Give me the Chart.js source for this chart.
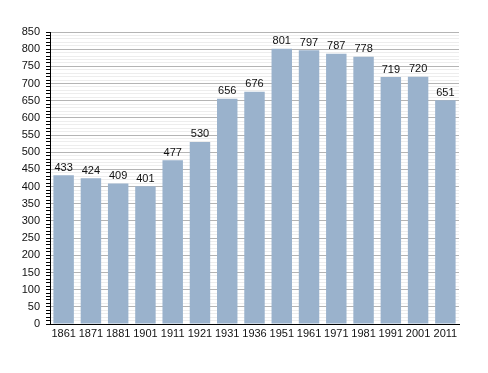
<!DOCTYPE html>
<html>
<head>
<meta charset="utf-8">
<script src="https://cdn.jsdelivr.net/npm/chart.js@4/dist/chart.umd.min.js"></script>
<style>
  html, body { margin: 0; padding: 0; background: #fff; }
  #wrap { width: 488px; height: 373px; }
</style>
</head>
<body>
<div id="wrap"><canvas id="barChart" width="488" height="373"></canvas></div>
<script>
const anni = ['1861', '1871', '1881', '1901', '1911', '1921', '1931', '1936', '1951', '1961', '1971', '1981', '1991', '2001', '2011'];
const abitanti = [433, 424, 409, 401, 477, 530, 656, 676, 801, 797, 787, 778, 719, 720, 651];
const yMax = 850;

// scrive il valore sopra ogni barra
const etichetteValori = {
    id: 'etichetteValori',
    afterDatasetsDraw(chart) {
        const ctx = chart.ctx;
        const meta = chart.getDatasetMeta(0);
        ctx.save();
        ctx.font = '11px "Liberation Sans", Arial, sans-serif';
        ctx.fillStyle = '#111';
        ctx.textAlign = 'center';
        ctx.textBaseline = 'bottom';
        meta.data.forEach((bar, i) => {
            ctx.fillText(abitanti[i], bar.x, bar.y - 2);
        });
        ctx.restore();
    }
};

const ctx = document.getElementById('barChart').getContext('2d');
new Chart(ctx, {
    type: 'bar',
    data: {
        labels: anni,
        datasets: [{
            data: abitanti,
            backgroundColor: '#9ab2cc',
            borderWidth: 0,
            barPercentage: 0.75,
            categoryPercentage: 1
        }]
    },
    options: {
        responsive: false,
        animation: false,
        layout: { padding: { top: 32, right: 29, left: 0, bottom: 0 } },
        plugins: {
            legend: { display: false },
            tooltip: { enabled: false }
        },
        scales: {
            x: {
                grid: { display: false, drawTicks: false },
                border: { color: '#000', width: 1 },
                ticks: {
                    color: '#111',
                    padding: 3,
                    maxRotation: 0,
                    autoSkip: false,
                    font: { family: '"Liberation Sans", Arial, sans-serif', size: 11 }
                },
                afterFit(scale) { scale.height = 49; }
            },
            y: {
                min: 0,
                max: yMax,
                border: { color: '#000', width: 1 },
                grid: {
                    color: c => (c.tick && c.tick.value % 50 === 0) ? '#b4b4b4' : '#ededed',
                    tickColor: '#000',
                    tickLength: 4
                },
                ticks: {
                    stepSize: 10,
                    autoSkip: false,
                    color: '#111',
                    padding: 6,
                    font: { family: '"Liberation Sans", Arial, sans-serif', size: 11 },
                    callback: v => v % 50 === 0 ? v : ''
                },
                afterFit(scale) { scale.width = 50; }
            }
        }
    },
    plugins: [etichetteValori]
});
</script>
</body>
</html>
